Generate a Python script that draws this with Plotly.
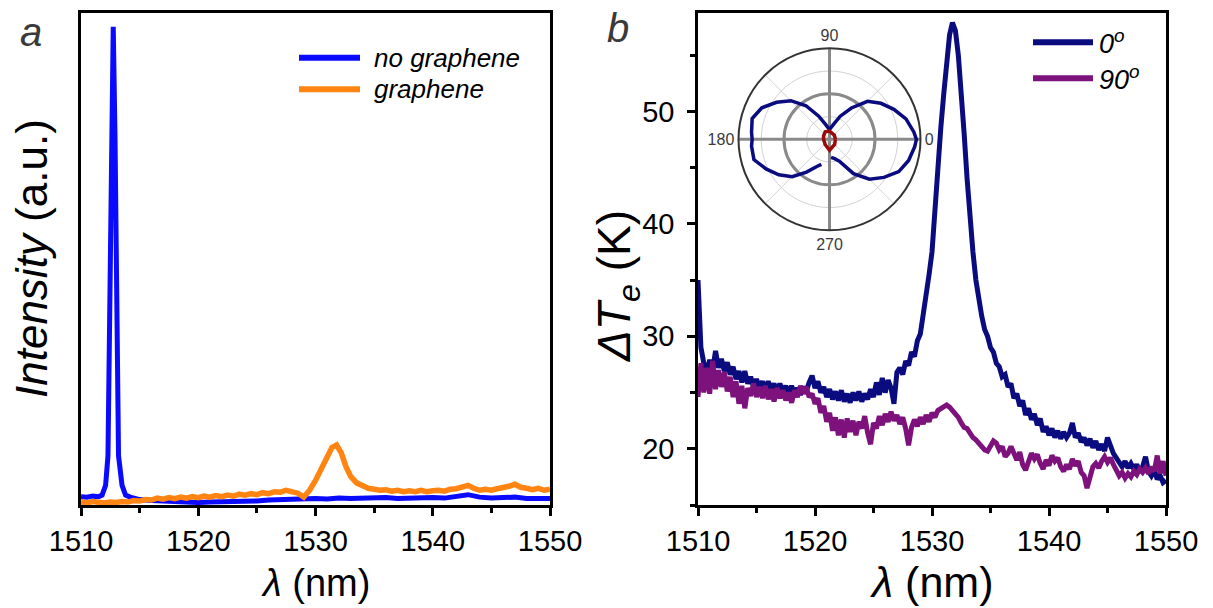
import plotly.graph_objects as go

# ---------------- data ----------------
# panel a
lam_a_blue = [1510.0, 1510.5, 1511.0, 1511.5, 1511.8, 1512.1, 1512.3, 1512.45, 1512.6, 1512.75,
              1512.9, 1513.05, 1513.2, 1513.5, 1513.8, 1514.2, 1514.6, 1515, 1516, 1517, 1518,
              1519, 1520, 1521, 1522, 1523, 1524, 1525, 1526, 1527, 1528, 1529, 1530, 1531, 1532,
              1533, 1534, 1535, 1536, 1537, 1538, 1539, 1540, 1541, 1542, 1543, 1544, 1545, 1546,
              1547, 1548, 1549, 1550]
int_no_graphene = [0.017, 0.016, 0.018, 0.017, 0.020, 0.040, 0.100, 0.400, 0.750, 0.972,
                   0.750, 0.350, 0.100, 0.040, 0.020, 0.016, 0.013, 0.011, 0.009, 0.008, 0.006,
                   0.006, 0.005, 0.006, 0.006, 0.007, 0.008, 0.008, 0.010, 0.011, 0.012, 0.012,
                   0.013, 0.012, 0.014, 0.013, 0.014, 0.013, 0.015, 0.013, 0.014, 0.013, 0.015,
                   0.014, 0.017, 0.021, 0.016, 0.014, 0.015, 0.016, 0.013, 0.014, 0.013]

lam_a_orange = [1510.0, 1510.5, 1511.0, 1511.5, 1512.0, 1512.5, 1513.0, 1513.5, 1514.0, 1514.5,
                1515.0, 1515.5, 1516.0, 1516.5, 1517.0, 1517.5, 1518.0, 1518.5, 1519.0, 1519.5,
                1520.0, 1520.5, 1521.0, 1521.5, 1522.0, 1522.5, 1523.0, 1523.5, 1524.0, 1524.5,
                1525.0, 1525.5, 1526.0, 1526.5, 1527.0, 1527.5, 1528.0, 1528.5, 1529.0, 1529.5,
                1530.0, 1530.5, 1531.0, 1531.4, 1531.8, 1532.2, 1532.6, 1533.0, 1533.5, 1534.0,
                1534.5, 1535.0, 1535.5, 1536.0, 1536.5, 1537.0, 1537.5, 1538.0, 1538.5, 1539.0,
                1539.5, 1540.0, 1540.5, 1541.0, 1541.5, 1542.0, 1542.5, 1543.0, 1543.5, 1544.0,
                1544.5, 1545.0, 1545.5, 1546.0, 1546.5, 1547.0, 1547.5, 1548.0, 1548.5, 1549.0,
                1549.5, 1550.0]
int_graphene = [0.006, 0.004, 0.007, 0.005, 0.004, 0.006, 0.005, 0.007, 0.006, 0.009,
                0.008, 0.011, 0.010, 0.014, 0.012, 0.015, 0.013, 0.016, 0.014, 0.017,
                0.015, 0.018, 0.016, 0.019, 0.017, 0.020, 0.018, 0.022, 0.020, 0.023,
                0.021, 0.025, 0.023, 0.027, 0.026, 0.030, 0.027, 0.024, 0.016, 0.030,
                0.050, 0.076, 0.100, 0.117, 0.122, 0.106, 0.078, 0.058, 0.045, 0.038,
                0.034, 0.032, 0.030, 0.031, 0.028, 0.030, 0.027, 0.029, 0.027, 0.030,
                0.027, 0.029, 0.030, 0.028, 0.032, 0.033, 0.036, 0.040, 0.034, 0.030,
                0.032, 0.030, 0.033, 0.035, 0.038, 0.042, 0.036, 0.034, 0.031, 0.034,
                0.030, 0.032]

# panel b (0.25 nm sampling)
lam_b = [1510 + 0.25 * i for i in range(161)]
dTe_0deg = [
    35.0, 29.0, 27.6, 26.8, 27.9, 27.0, 28.7, 27.2, 28.0, 26.9, 27.7, 26.6,
    27.3, 26.2, 26.9, 25.9, 26.9, 25.8, 26.4, 25.5, 26.2, 25.4, 26.0, 25.2,
    26.0, 25.2, 25.8, 25.0, 25.8, 25.0, 25.6, 24.9, 25.6, 24.8, 25.4, 24.8,
    25.5, 25.1, 25.9, 26.5, 25.4, 26.0, 25.0, 25.5, 24.6, 25.3, 24.4, 25.1,
    24.3, 25.2, 24.2, 24.9, 24.1, 25.0, 24.3, 25.1, 24.2, 24.9, 24.4, 25.3,
    24.6, 25.9, 24.8, 26.3, 25.0, 26.1, 25.4, 24.0, 26.8, 27.2, 26.6, 27.8,
    27.4, 28.6, 28.2, 29.6, 30.2, 31.8, 33.8, 35.5, 37.5, 41.5, 45.0, 48.5,
    51.5, 54.3, 56.8, 57.9, 57.2, 55.0, 52.0, 48.0, 44.0, 40.5, 37.5, 35.0,
    33.0, 31.8, 30.6, 30.0, 29.0, 28.6, 27.6, 27.3, 26.4, 26.6, 25.5, 25.8,
    24.5, 24.9, 23.8, 24.3, 23.0, 23.6, 22.6, 23.1, 22.1, 22.7, 21.5, 22.0,
    21.2, 21.8, 21.0, 21.6, 20.9, 21.5, 21.0, 21.4, 22.3, 21.0, 21.4, 20.6,
    21.0, 20.3, 20.9, 20.1, 20.7, 19.9, 20.4, 19.8, 21.0, 20.2, 19.6, 19.2,
    18.8, 18.4, 18.9, 18.3, 18.7, 18.2, 18.6, 18.0, 18.4, 19.3, 18.0, 17.6,
    18.1, 17.3, 17.6, 17.0, 17.2]
dTe_90deg = [
    24.6, 27.6, 25.0, 27.2, 24.9, 27.8, 25.3, 27.0, 25.5, 26.8, 25.1, 26.4,
    24.6, 26.0, 24.0, 25.6, 23.6, 25.4, 24.7, 25.8, 24.6, 25.5, 24.5, 25.6,
    24.4, 25.3, 24.2, 25.4, 24.5, 25.2, 24.3, 25.0, 24.1, 25.2, 24.6, 25.6,
    24.9, 25.5, 24.6, 24.9, 24.0, 24.5, 23.2, 23.8, 22.4, 23.2, 21.6, 22.8,
    21.2, 22.6, 21.0, 22.7, 21.5, 22.5, 21.2, 22.4, 21.8, 22.9, 21.4, 20.4,
    22.3, 21.8, 22.9, 22.1, 23.1, 22.4, 23.3, 22.5, 23.0, 22.2, 22.8, 21.8,
    20.3, 21.9, 22.6, 22.0, 22.8, 22.2, 23.0, 22.4, 23.2, 22.8, 23.4, 23.6,
    23.8, 23.9, 23.7, 23.4, 23.1, 22.8, 22.3, 21.9, 21.8, 21.3, 21.0, 20.8,
    20.5, 20.2, 19.9, 19.8, 20.3, 20.7, 20.5, 19.9, 20.2, 19.3, 19.6, 20.2,
    19.6, 19.0, 19.7, 18.6, 18.1, 19.0, 19.6, 19.1, 19.5, 18.7, 18.2, 19.0,
    18.5, 19.4, 18.9, 19.2, 18.4, 18.0, 18.6, 18.2, 19.1, 18.5, 18.9, 17.9,
    17.6, 16.5, 17.4, 18.4, 18.7, 18.3, 18.9, 19.3, 18.8, 19.2, 18.6, 18.1,
    17.6, 17.9, 17.4, 17.8, 17.5, 18.0, 17.7, 18.2, 17.9, 18.3, 17.8, 18.4,
    18.0, 19.4, 17.8, 18.9, 17.6]

# inset polar (normalised response vs angle)
polar_theta_0 = [-85, -75, -65, -55, -45, -35, -25, -15, -5, 0, 5, 15, 25, 35, 45, 55, 65, 75,
                 85, 90, 95, 105, 115, 125, 135, 145, 155, 165, 175, 180, 185, 195, 205, 215,
                 225, 235, 245, 252]
polar_r_0 = [0.20, 0.22, 0.27, 0.46, 0.62, 0.73, 0.84, 0.90, 0.94, 0.955, 0.93, 0.87, 0.78,
             0.69, 0.59, 0.42, 0.28, 0.17, 0.12, 0.11, 0.12, 0.17, 0.28, 0.45, 0.60, 0.71,
             0.82, 0.88, 0.86, 0.85, 0.86, 0.86, 0.77, 0.68, 0.58, 0.44, 0.33, 0.29]
polar_theta_90 = [0, 40, 90, 120, 150, 180, 230, 270, 315, 360]
polar_r_90 = [0.065, 0.07, 0.09, 0.095, 0.075, 0.065, 0.075, 0.12, 0.08, 0.065]

x_ticks = [1510, 1520, 1530, 1540, 1550]
y_ticks_b = [20, 30, 40, 50]
polar_major = [0, 90, 180, 270]
polar_light = [0, 45, 90, 135, 180, 225, 270, 315]

# ---------------- style ----------------
W, H = 1213, 608
FONT = "Arial, 'Liberation Sans', Helvetica, sans-serif"
BLUE, ORANGE = "#0a0aff", "#ff8412"
NAVY, PURPLE, DARKRED = "#0b0b80", "#7d127d", "#9a0a0a"


def fx(x):
    return x / W


def fy(y):
    return 1 - y / H


fig = go.Figure()
fig.add_trace(go.Scatter(x=lam_a_blue, y=int_no_graphene, mode="lines", name="no graphene",
                         line=dict(color=BLUE, width=5), xaxis="x", yaxis="y", showlegend=False))
fig.add_trace(go.Scatter(x=lam_a_orange, y=int_graphene, mode="lines", name="graphene",
                         line=dict(color=ORANGE, width=5.5), xaxis="x", yaxis="y", showlegend=False))
fig.add_trace(go.Scatter(x=lam_b, y=dTe_0deg, mode="lines", name="0°",
                         line=dict(color=NAVY, width=5), xaxis="x2", yaxis="y2", showlegend=False))
fig.add_trace(go.Scatter(x=lam_b, y=dTe_90deg, mode="lines", name="90°",
                         line=dict(color=PURPLE, width=5), xaxis="x2", yaxis="y2", showlegend=False))
# invisible anchor so the background (light-grid) polar layer is drawn
fig.add_trace(go.Scatterpolar(r=[0], theta=[0], mode="markers", marker=dict(size=1, opacity=0),
                              subplot="polar", showlegend=False, hoverinfo="skip"))
fig.add_trace(go.Scatterpolar(r=polar_r_0, theta=polar_theta_0, mode="lines", name="0°",
                              line=dict(color=NAVY, width=3.5), subplot="polar2", showlegend=False))
fig.add_trace(go.Scatterpolar(r=polar_r_90, theta=polar_theta_90, mode="lines", name="90°",
                              line=dict(color=DARKRED, width=3.5), subplot="polar2", showlegend=False))

xaxis_common = dict(range=[1510, 1550], tickvals=x_ticks, ticks="outside", ticklen=8, tickwidth=2.5,
                    tickcolor="black", showline=True, linewidth=2.5, linecolor="black", mirror=True,
                    showgrid=False, zeroline=False, automargin=False,
                    tickfont=dict(family=FONT, size=29, color="black"),
                    minor=dict(dtick=5, tick0=1510, ticks="outside", ticklen=5, tickwidth=2.5,
                               tickcolor="black", showgrid=False))

polar_dom = dict(x=[fx(829.5 - 91), fx(829.5 + 91)], y=[fy(139.3 + 91), fy(139.3 - 91)])

fig.update_layout(
    template="none",
    width=W, height=H, autosize=False,
    margin=dict(l=0, r=0, t=0, b=0, pad=0),
    paper_bgcolor="white", plot_bgcolor="white",
    showlegend=False,
    font=dict(family=FONT, color="black"),
    xaxis=dict(domain=[fx(81), fx(550)], anchor="y", **xaxis_common),
    yaxis=dict(domain=[fy(505), fy(13)], anchor="x", range=[0, 1], showticklabels=False, ticks="",
               showline=True, linewidth=2.5, linecolor="black", mirror=True, showgrid=False,
               zeroline=False, automargin=False),
    xaxis2=dict(domain=[fx(698), fx(1166)], anchor="y2", **xaxis_common),
    yaxis2=dict(domain=[fy(505), fy(12.5)], anchor="x2", range=[15, 58.8], tickvals=y_ticks_b,
                ticks="outside", ticklen=8, tickwidth=2.5, tickcolor="black", ticklabelstandoff=7,
                showline=True, linewidth=2.5, linecolor="black", mirror=True, showgrid=False,
                zeroline=False, automargin=False, tickfont=dict(family=FONT, size=29, color="black"),
                minor=dict(dtick=5, tick0=15, ticks="outside", ticklen=5, tickwidth=2.5,
                           tickcolor="black", showgrid=False)),
    polar=dict(domain=polar_dom, bgcolor="white",
               radialaxis=dict(range=[0, 1], tickvals=[0.25, 0.5, 0.75], showticklabels=False,
                               ticks="", showline=False, gridcolor="#d2d2d2", gridwidth=1),
               angularaxis=dict(tickmode="array", tickvals=polar_light, showticklabels=False,
                                ticks="", showline=False, gridcolor="#d2d2d2", gridwidth=1)),
    polar2=dict(domain=polar_dom, bgcolor="rgba(0,0,0,0)",
                radialaxis=dict(range=[0, 1], tickvals=[0.5], showticklabels=False, ticks="",
                                showline=False, gridcolor="#8a8a8a", gridwidth=2.5),
                angularaxis=dict(tickmode="array", tickvals=polar_major,
                                 ticktext=[str(t) for t in polar_major], ticks="",
                                 showline=True, linecolor="#333333", linewidth=2,
                                 gridcolor="#8a8a8a", gridwidth=2.5,
                                 tickfont=dict(family=FONT, size=16, color="#3a3a3a"))),
)

# legends (drawn manually to match the long key lines)
legend_a = [("<i>no graphene</i>", BLUE, 57.7), ("<i>graphene</i>", ORANGE, 89.3)]
legend_b = [("<i>0<sup>o</sup></i>", NAVY, 42.3), ("<i>90<sup>o</sup></i>", PURPLE, 78.3)]
shapes = []
annotations = []
for txt, col, yy in legend_a:
    shapes.append(dict(type="line", xref="paper", yref="paper", x0=fx(299), x1=fx(360),
                       y0=fy(yy), y1=fy(yy), line=dict(color=col, width=6)))
    annotations.append(dict(text=txt, x=fx(372), y=fy(yy), xref="paper", yref="paper",
                            xanchor="left", yanchor="middle", showarrow=False,
                            font=dict(family=FONT, size=26, color="black")))
for txt, col, yy in legend_b:
    shapes.append(dict(type="line", xref="paper", yref="paper", x0=fx(1033), x1=fx(1093),
                       y0=fy(yy), y1=fy(yy), line=dict(color=col, width=6)))
    annotations.append(dict(text=txt, x=fx(1097), y=fy(yy), xref="paper", yref="paper",
                            xanchor="left", yanchor="middle", showarrow=False,
                            font=dict(family=FONT, size=27, color="black")))

# axis titles and panel labels
annotations += [
    dict(text="<i>λ</i> (nm)", x=fx(315), y=fy(583), xref="paper", yref="paper", showarrow=False,
         xanchor="center", yanchor="middle", font=dict(family=FONT, size=38, color="black")),
    dict(text="<i>λ</i> (nm)", x=fx(932), y=fy(582), xref="paper", yref="paper", showarrow=False,
         xanchor="center", yanchor="middle", font=dict(family=FONT, size=43, color="black")),
    dict(text="<i>Intensity</i> (a.u.)", x=fx(31), y=fy(259), xref="paper", yref="paper",
         showarrow=False, textangle=-90, xanchor="center", yanchor="middle",
         font=dict(family=FONT, size=44, color="black")),
    dict(text="<i>ΔT</i><sub><i>e</i></sub> (K)", x=fx(617), y=fy(286), xref="paper", yref="paper",
         showarrow=False, textangle=-90, xanchor="center", yanchor="middle",
         font=dict(family=FONT, size=46, color="black")),
    dict(text="<i>a</i>", x=fx(31), y=fy(32), xref="paper", yref="paper", showarrow=False,
         xanchor="center", yanchor="middle", font=dict(family=FONT, size=40, color="#3a3a3a")),
    dict(text="<i>b</i>", x=fx(618), y=fy(28), xref="paper", yref="paper", showarrow=False,
         xanchor="center", yanchor="middle", font=dict(family=FONT, size=40, color="#3a3a3a")),
]
fig.update_layout(shapes=shapes, annotations=annotations)

fig.write_html("out.html", config={"displayModeBar": False},
               post_script="document.body.style.margin='0';")
